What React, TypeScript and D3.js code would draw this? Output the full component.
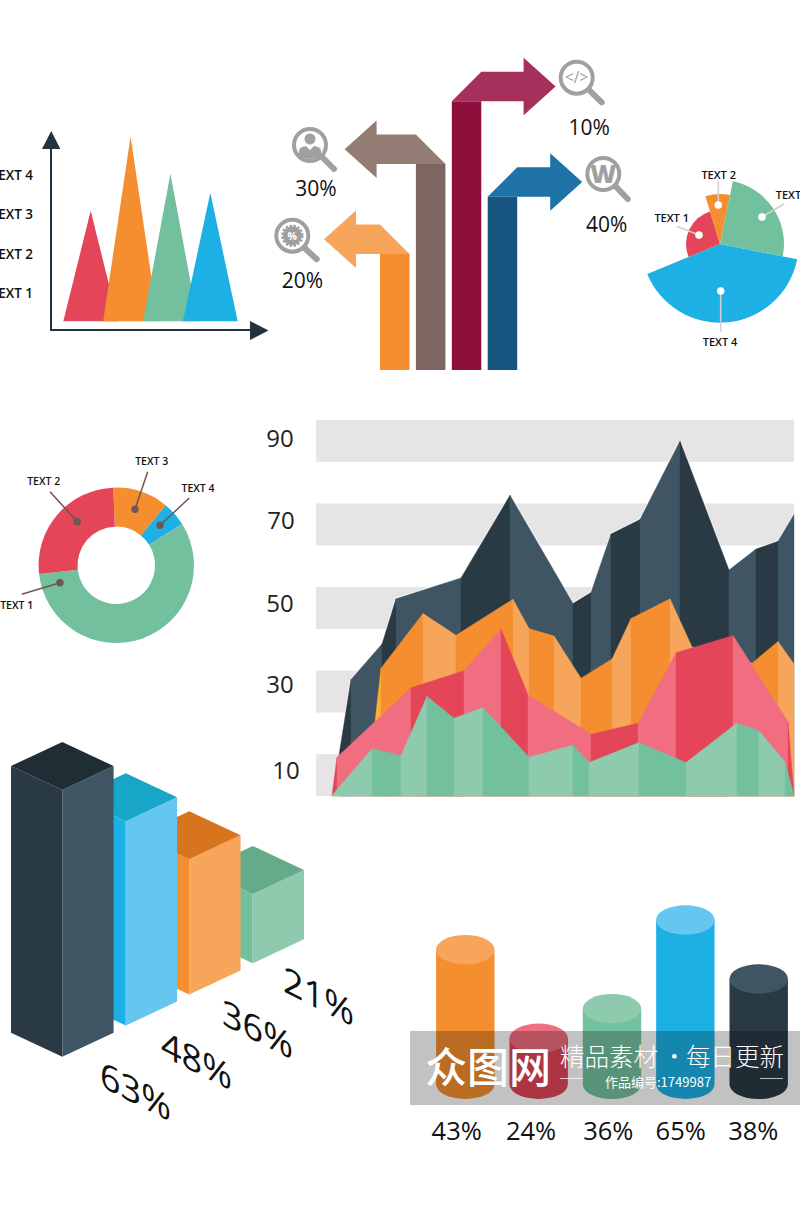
import React from "react";
import * as d3 from "d3";

// ---------- data ----------
const triangleNames = ["TEXT 1", "TEXT 2", "TEXT 3", "TEXT 4"];
const triangleValues = [3.09, 4.98, 4.03, 3.55];
const triangleBase = 0.28;

const arrowLabels = ["20%", "30%", "10%", "40%"];
const arrowHeights = [116, 206, 268.7, 173.3];
const arrowReach = [24, 39.3, 42.3, 33];
const arrowDirs = [-1, -1, 1, 1];

const petalNames = ["TEXT 4", "TEXT 1", "TEXT 2", "TEXT 3"];
const petalSweep = [146.4, 95.4, 28.6, 89.6];
const petalRadius = [78.7, 34, 50, 64];

const donutNames = ["TEXT 3", "TEXT 4", "TEXT 1", "TEXT 2"];
const donutValues = [11.6, 5.1, 57.1, 26.2];

const bandTicks = [10, 30, 50, 70, 90];
const darkX = [7, 19, 50, 64, 129, 178, 241, 259, 279, 308, 348, 397, 424, 446, 462];
const darkY = [14.8, 32.9, 41.4, 52.2, 57.2, 77, 51.1, 53.7, 67.7, 71.2, 90, 59.1, 64.1, 66, 72.4];
const orangeX = [43, 49, 91, 124, 181, 197, 222, 249, 280, 299, 338, 360, 390, 420, 446, 462];
const orangeY = [22.8, 35.6, 48.7, 43.5, 52.1, 45.1, 43.3, 33.2, 37.8, 47.5, 52.2, 40.7, 38.7, 36.8, 42, 36.6];
const redX = [0, 5, 79, 132, 169, 196, 259, 306, 344, 401, 456, 462];
const redY = [5.2, 14.3, 30.9, 35, 45, 29.2, 19.8, 22.4, 39.3, 43.4, 22.8, 5.2];
const greenX = [0, 40, 69, 95, 122, 151, 197, 241, 257, 307, 354, 405, 427, 453, 462];
const greenY = [5.2, 16.3, 14.7, 28.9, 23.6, 26.2, 14.3, 17.2, 13, 17.8, 13, 22.5, 20.6, 13.2, 5.2];

const blockLabels = ["63%", "48%", "36%", "21%"];
const blockValues = [63, 48, 36, 21];

const cylinderLabels = ["43%", "24%", "36%", "65%", "38%"];
const cylinderValues = [43, 24, 36, 65, 38];

// ---------- palette ----------
const C = {
  red: "#e44558", redL: "#f06e80", orange: "#f58e2e", orangeL: "#f6a55a", orangeD: "#d9741e",
  green: "#73c09f", greenL: "#8ecaae", greenD: "#64ab8a", blue: "#1cb0e4", blueL: "#65c6f0", blueD: "#17a5c8",
  dark: "#2a3a44", darkL: "#3f5563", darkD: "#1f2e35", axis: "#22333f", grey: "#a0a0a0", band: "#e6e4e5",
};
const FONT = "'Open Sans', sans-serif";
const rad = (deg: number) => (deg * Math.PI) / 180;

function TopLeft() {
  const y = d3.scaleLinear().domain([0, 4]).range([332.3, 175]);
  const x = d3.scalePoint<string>().domain(triangleNames).range([90.7, 210.3]);
  const line = d3.line<[number, number]>();
  const colors = [C.red, C.orange, C.green, C.blue];
  return (
    <g>
      {triangleNames.map((n, i) => (
        <path key={n} fill={colors[i]} d={line([[x(n)! - 27.4, y(triangleBase)], [x(n)!, y(triangleValues[i])], [x(n)! + 27.4, y(triangleBase)]]) + "Z"} />
      ))}
      <path d="M51 145V330H252" fill="none" stroke={C.axis} strokeWidth={2} />
      <path d="M51.2 131L60.4 149H42Z M250 321V340L268.5 330.5Z" fill={C.axis} />
      {triangleNames.map((n, i) => (
        <text key={n} x={33} y={y(i + 1) + 5} textAnchor="end" fontFamily={FONT} fontWeight={600} fontSize={13.5} fill="#111">{n}</text>
      ))}
    </g>
  );
}

function arrowParts(left: number, top: number, reach: number, dir: number) {
  const w = 29.5;
  const inner = dir > 0 ? left : left + w;
  const outer = dir > 0 ? left + w : left;
  const far = outer + dir * reach;
  const p = d3.path();
  p.moveTo(inner, top);
  p.lineTo(outer, top - w);
  p.lineTo(far, top - w);
  p.lineTo(far, top - w - 14);
  p.lineTo(far + dir * 32, top - w / 2);
  p.lineTo(far, top + 14);
  p.lineTo(far, top);
  p.closePath();
  return p.toString();
}

function Arrows() {
  const x = d3.scaleLinear().domain([0, 3]).range([380, 487.7]);
  const y = d3.scaleLinear().domain([0, 300]).range([370, 70]);
  const stems = [C.orange, "#7c665f", "#8c0f3c", "#185581"];
  const heads = [C.orangeL, "#937c74", "#a5305c", "#1f72a6"];
  const icons = [
    { cx: 292.3, cy: 235.7, hx: 316.7, hy: 259.3, lx: 302.5, ly: 288 },
    { cx: 310, cy: 145, hx: 334, hy: 169, lx: 316, ly: 196 },
    { cx: 576.7, cy: 77.7, hx: 601.7, hy: 102.3, lx: 589.3, ly: 135 },
    { cx: 603.3, cy: 174, hx: 627.7, hy: 199, lx: 606.7, ly: 232 },
  ];
  return (
    <g>
      {arrowHeights.map((h, i) => (
        <g key={i}>
          <rect x={x(i)} y={y(h)} width={29.5} height={h} fill={stems[i]} />
          <path d={arrowParts(x(i), y(h), arrowReach[i], arrowDirs[i])} fill={heads[i]} />
        </g>
      ))}
      {icons.map((c, i) => (
        <g key={i}>
          <line x1={c.cx + 12} y1={c.cy + 12} x2={c.hx} y2={c.hy} stroke={C.grey} strokeWidth={6} strokeLinecap="round" />
          <circle cx={c.cx} cy={c.cy} r={16} fill="#fff" stroke={C.grey} strokeWidth={4} />
          <text x={c.lx} y={c.ly} textAnchor="middle" fontFamily={FONT} fontSize={21} fill="#111">{arrowLabels[i]}</text>
        </g>
      ))}
      <circle cx={292.3} cy={235.7} r={9.5} fill={C.grey} stroke={C.grey} strokeWidth={3.5} strokeDasharray="2.2 1.6" />
      <text x={292.3} y={239.5} textAnchor="middle" fontFamily={FONT} fontWeight={700} fontSize={10.5} fill="#fff">%</text>
      <circle cx={310} cy={139} r={5.5} fill={C.grey} />
      <path d="M299 156V151Q299 147 306 146L310 150L314 146Q321 147 321 151V156Q310 162 299 156Z" fill={C.grey} />
      <text x={576.7} y={83} textAnchor="middle" fontFamily={FONT} fontSize={15.5} fill={C.grey}>&lt;/&gt;</text>
      <text x={603.3} y={183} textAnchor="middle" fontFamily={FONT} fontWeight={800} fontSize={25} fill={C.grey}>W</text>
    </g>
  );
}

function Petals() {
  const cx = 720, cy = 244;
  const pie = d3.pie<number>().sort(null).value((d) => d).startAngle(rad(101.2)).endAngle(rad(101.2 + 360));
  const arc = d3.arc<any>().innerRadius(0);
  const colors = [C.blue, C.red, C.orange, C.green];
  const marks: Record<string, number[]> = {
    "TEXT 1": [699, 235, 676.7, 226.3, 671.7, 221.5],
    "TEXT 2": [718.3, 205, 718.3, 181.7, 718.7, 179],
    "TEXT 3": [762, 217, 784, 204, 775.7, 199],
    "TEXT 4": [720.7, 291, 720.7, 331.7, 720, 345.5],
  };
  return (
    <g>
      {pie(petalSweep).map((s, i) => (
        <path key={i} transform={`translate(${cx},${cy})`} fill={colors[i]} d={arc({ ...s, outerRadius: petalRadius[i] }) as string} />
      ))}
      {petalNames.map((n) => {
        const m = marks[n];
        return (
          <g key={n}>
            <line x1={m[0]} y1={m[1]} x2={m[2]} y2={m[3]} stroke="#cfcfcf" strokeWidth={1.6} />
            <circle cx={m[0]} cy={m[1]} r={3.8} fill="#fff" />
            <text x={m[4]} y={m[5]} textAnchor={n === "TEXT 3" ? "start" : "middle"} fontFamily={FONT} fontWeight={600} fontSize={11} fill="#111">{n}</text>
          </g>
        );
      })}
    </g>
  );
}

function Donut() {
  const cx = 116.3, cy = 565.3;
  const pie = d3.pie<number>().sort(null).value((d) => d).startAngle(rad(-2.2)).endAngle(rad(357.8));
  const arc = d3.arc<any>().innerRadius(38.7).outerRadius(77.7);
  const colors = [C.orange, C.blue, C.green, C.red];
  const marks: Record<string, number[]> = {
    "TEXT 1": [60, 582.7, 21.7, 594.3, 16.7, 609],
    "TEXT 2": [77.3, 521.7, 50, 491.7, 43.7, 484.5],
    "TEXT 3": [135, 509.3, 147.7, 471.7, 151.7, 465],
    "TEXT 4": [160, 525.3, 189.3, 498, 198, 491.5],
  };
  return (
    <g>
      {pie(donutValues).map((s, i) => (
        <path key={i} transform={`translate(${cx},${cy})`} fill={colors[i]} d={arc(s) as string} />
      ))}
      {donutNames.map((n) => {
        const m = marks[n];
        return (
          <g key={n}>
            <line x1={m[0]} y1={m[1]} x2={m[2]} y2={m[3]} stroke="#6e5656" strokeWidth={1.5} />
            <circle cx={m[0]} cy={m[1]} r={3.7} fill="#6e5656" />
            <text x={m[4]} y={m[5]} textAnchor="middle" fontFamily={FONT} fontWeight={600} fontSize={10.5} fill="#111">{n}</text>
          </g>
        );
      })}
    </g>
  );
}

function Mountains() {
  const x = d3.scaleLinear().domain([0, 462]).range([332, 794]);
  const y = d3.scaleLinear().domain([5, 95]).range([796, 420]);
  const labelDy = [3.5, 1, 4, 5, 6];
  const labelX = [286, 280, 280, 281, 280];
  const layers = [
    { xs: darkX, ys: darkY, fills: [C.dark, C.darkL], edge: true },
    { xs: orangeX, ys: orangeY, fills: ["#fbb034", C.orange, C.orangeL], edge: false },
    { xs: redX, ys: redY, fills: [C.red, C.redL], edge: false },
    { xs: greenX, ys: greenY, fills: [C.greenL, C.green], edge: false },
  ];
  const area = d3.area<[number, number]>().x((d) => x(d[0])).y0(y(5)).y1((d) => y(d[1]));
  const line = d3.line<[number, number]>().x((d) => x(d[0])).y((d) => y(d[1]));
  return (
    <g>
      {bandTicks.map((t) => (
        <rect key={t} x={316} width={478} y={y(t) - 21} height={42} fill={C.band} />
      ))}
      {bandTicks.map((t, i) => (
        <text key={t} x={labelX[i]} y={y(t) + labelDy[i]} textAnchor="middle" fontFamily={FONT} fontSize={24} fill="#222">{t}</text>
      ))}
      {layers.map((l, li) => {
        const pts = l.xs.map((v, i) => [v, l.ys[i]] as [number, number]);
        return (
          <g key={li}>
            {l.edge && <path d={line(pts)!} fill="none" stroke="#fff" strokeWidth={2} />}
            {pts.slice(1).map((p, i) => {
              const fill = l.fills.length === 3 ? (i === 0 ? l.fills[0] : l.fills[1 + ((i - 1) % 2)]) : l.fills[i % 2];
              return <path key={i} d={area([pts[i], p])!} fill={fill} stroke={fill} strokeWidth={0.4} />;
            })}
          </g>
        );
      })}
    </g>
  );
}

function Blocks() {
  const h = d3.scaleLinear().domain([21, 36, 48, 63]).range([69.3, 135.3, 204.4, 266.7]);
  const x = d3.scaleLinear().domain([0, 3]).range([62.3, 252.7]);
  const base = d3.scaleLinear().domain([0, 3]).range([1056.7, 963.3]);
  const W = 51.3, D = 24;
  const faces = [
    [C.dark, C.darkL, C.darkD],
    [C.blue, C.blueL, C.blueD],
    [C.orange, C.orangeL, C.orangeD],
    [C.green, C.greenL, C.greenD],
  ];
  const labelPos = [[100, 1086], [161, 1055], [222, 1024], [283, 991]];
  const poly = d3.line<[number, number]>();
  const order = d3.range(blockValues.length).reverse();
  return (
    <g>
      {order.map((i) => {
        const cx = x(i), b = base(i), t = b - h(blockValues[i]);
        return (
          <g key={i}>
            <path fill={faces[i][0]} d={poly([[cx - W, t - D], [cx, t], [cx, b], [cx - W, b - D]]) + "Z"} />
            <path fill={faces[i][1]} d={poly([[cx + W, t - D], [cx, t], [cx, b], [cx + W, b - D]]) + "Z"} />
            <path fill={faces[i][2]} d={poly([[cx - W, t - D], [cx, t - 2 * D], [cx + W, t - D], [cx, t]]) + "Z"} />
          </g>
        );
      })}
      {blockLabels.map((s, i) => (
        <text key={s} transform={`translate(${labelPos[i][0]},${labelPos[i][1]}) skewY(27)`} fontFamily={FONT} fontSize={36} fill="#111">{s}</text>
      ))}
    </g>
  );
}

function Cylinders() {
  const x = d3.scalePoint<number>().domain(d3.range(5)).range([465.3, 758.7]);
  const h = d3.scaleLinear().domain([24, 36, 38, 43, 65]).range([46, 75.6, 105.3, 134.6, 164.3]);
  const bottom = 1084.3, rx = 29.2, ry = 14.7;
  const body = [C.orange, C.red, C.green, C.blue, C.dark];
  const top = [C.orangeL, C.redL, C.greenL, C.blueL, C.darkL];
  const labelX = [456.7, 531, 608.3, 680.7, 753.3];
  return (
    <g>
      {cylinderValues.map((v, i) => {
        const cx = x(i)!, t = bottom - h(v);
        return (
          <g key={i}>
            <path fill={body[i]} d={`M${cx - rx} ${t}V${bottom}A${rx} ${ry} 0 0 0 ${cx + rx} ${bottom}V${t}Z`} />
            <ellipse cx={cx} cy={t} rx={rx} ry={ry} fill={top[i]} />
            <text x={labelX[i]} y={1139.5} textAnchor="middle" fontFamily={FONT} fontSize={25.5} fill="#111">{cylinderLabels[i]}</text>
          </g>
        );
      })}
    </g>
  );
}

function Watermark() {
  const cjk = "'Noto Sans CJK SC', sans-serif";
  return (
    <g>
      <rect x={410} y={1031} width={390} height={74} fill="#000" opacity={0.24} />
      <text x={425} y={1083} fontFamily={cjk} fontWeight={500} fontSize={42} fill="#fff">众图网</text>
      <text y={1066} fontFamily={cjk} fontWeight={300} fontSize={24.5} fill="#fff">
        <tspan x={560}>精品素材</tspan>
        <tspan x={662}>·</tspan>
        <tspan x={686}>每日更新</tspan>
      </text>
      <text x={605} y={1087} fontFamily={cjk} fontSize={13} fill="#fff">作品编号:1749987</text>
      <path d="M560 1078.5H583M760 1078.5H783" stroke="#fff" strokeWidth={0.7} />
    </g>
  );
}

export default function App() {
  return (
    <svg width={800} height={1205} viewBox="0 0 800 1205" style={{ position: "absolute", left: 0, top: 0, background: "#fff" }}>
      <TopLeft />
      <Arrows />
      <Petals />
      <Donut />
      <Mountains />
      <Blocks />
      <Cylinders />
      <Watermark />
    </svg>
  );
}
